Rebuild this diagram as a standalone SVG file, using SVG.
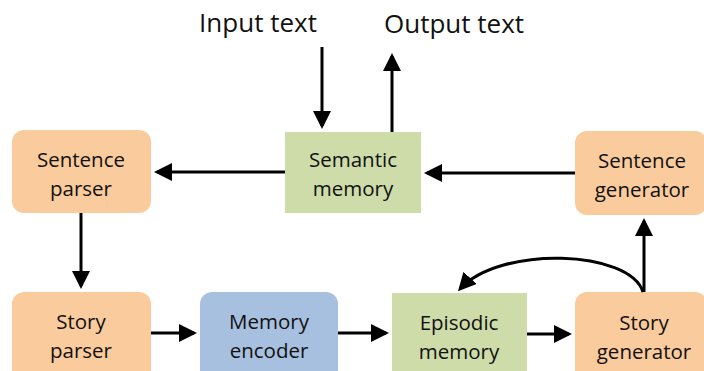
<svg xmlns="http://www.w3.org/2000/svg" width="704" height="371" viewBox="0 0 704 371">
<style>
.t{font-family:"Open Sans","Noto Sans",sans-serif;font-size:20.5px;fill:#111;text-anchor:middle}
.big{font-size:26px}
.or{fill:#FACB9C}
.gr{fill:#CDDCA9}
.bl{fill:#A8C0DF}
.c{stroke:#000;stroke-width:3;fill:none}
</style>
<defs>
<marker id="ah" markerWidth="6" markerHeight="6" refX="5" refY="3" orient="auto" markerUnits="strokeWidth">
<path d="M0,0 L6,3 L0,6 Z" fill="#000"/>
</marker>
</defs>
<rect width="704" height="371" fill="#fff"/>
<text class="t big" x="258" y="32">Input text</text>
<text class="t big" x="454" y="33">Output text</text>
<g id="sentence-parser"><rect class="or" x="12" y="130" width="139" height="83" rx="12"/><text class="t" x="81" y="167">Sentence</text><text class="t" x="81" y="196">parser</text></g>
<g id="semantic-memory"><rect class="gr" x="285" y="132" width="136" height="81"/><text class="t" x="353" y="167">Semantic</text><text class="t" x="353" y="196">memory</text></g>
<g id="sentence-generator"><rect class="or" x="575" y="131" width="132" height="84" rx="12"/><text class="t" x="642" y="168">Sentence</text><text class="t" x="642" y="197">generator</text></g>
<g id="story-parser"><rect class="or" x="12" y="292" width="139" height="90" rx="12"/><text class="t" x="81" y="329">Story</text><text class="t" x="81" y="358">parser</text></g>
<g id="memory-encoder"><rect class="bl" x="200" y="292" width="138" height="90" rx="12"/><text class="t" x="269" y="329">Memory</text><text class="t" x="269" y="358">encoder</text></g>
<g id="episodic-memory"><rect class="gr" x="392" y="293" width="135" height="90"/><text class="t" x="459" y="330">Episodic</text><text class="t" x="459" y="359">memory</text></g>
<g id="story-generator"><rect class="or" x="575" y="292" width="132" height="90" rx="12"/><text class="t" x="644" y="330">Story</text><text class="t" x="644" y="359">generator</text></g>
<g id="connectors">
<path class="c" d="M322,47 V126" marker-end="url(#ah)"/>
<path class="c" d="M392,132 V56" marker-end="url(#ah)"/>
<path class="c" d="M285,172 H157" marker-end="url(#ah)"/>
<path class="c" d="M575,173 H427" marker-end="url(#ah)"/>
<path class="c" d="M81,213 V286" marker-end="url(#ah)"/>
<path class="c" d="M151,333 H194" marker-end="url(#ah)"/>
<path class="c" d="M338,333 H386" marker-end="url(#ah)"/>
<path class="c" d="M527,334 H569" marker-end="url(#ah)"/>
<path class="c" d="M644,292 V221" marker-end="url(#ah)"/>
<path class="c" d="M643,292 C630,250 500,245 460,289" marker-end="url(#ah)"/>
</g>
</svg>
